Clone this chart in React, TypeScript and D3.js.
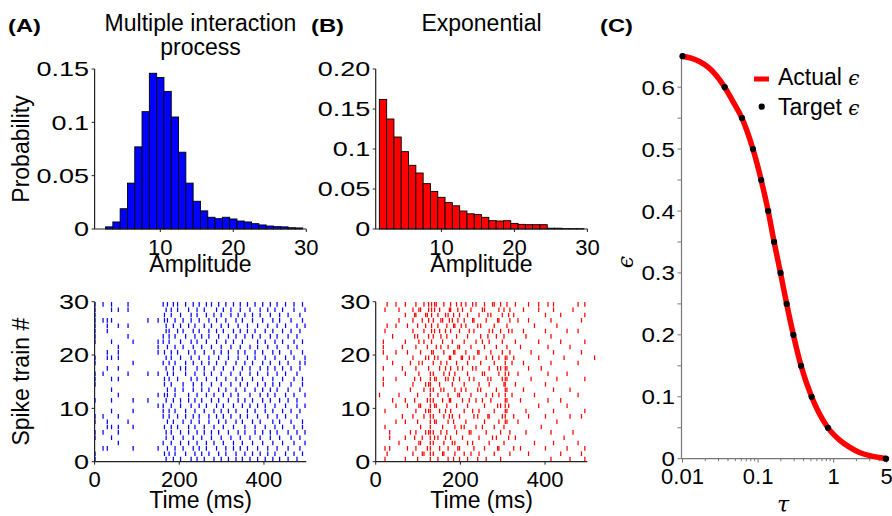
import React from 'react';
import * as d3 from 'd3';

const FONT = '"Liberation Sans", Arial, Helvetica, sans-serif';
const MATH = '"DejaVu Serif", "Liberation Serif", serif';

// ---------- Histogram data ----------
const mipBins = [3, 4, 5, 6, 7, 8, 9, 10, 11, 12, 13, 14, 15, 16, 17, 18, 19, 20, 21, 22, 23, 24, 25, 26, 27, 28, 29];
const mipProb = [0.002, 0.0066, 0.019, 0.043, 0.077, 0.11, 0.146, 0.142, 0.129, 0.105, 0.072, 0.043, 0.026, 0.017, 0.011, 0.0097, 0.011, 0.0094, 0.0075, 0.0066, 0.005, 0.0038, 0.0028, 0.0022, 0.002, 0.0012, 0.001];
const expBins = [2, 3, 4, 5, 6, 7, 8, 9, 10, 11, 12, 13, 14, 15, 16, 17, 18, 19, 20, 21, 22, 23, 24, 25, 26, 27, 28, 29];
const expProb = [0.162, 0.1375, 0.115, 0.0967, 0.0796, 0.07, 0.0567, 0.047, 0.0396, 0.033, 0.029, 0.0225, 0.019, 0.018, 0.0146, 0.0104, 0.01, 0.0104, 0.007, 0.0058, 0.0054, 0.0054, 0.0054, 0.001, 0.001, 0.0005, 0.0005, 0.0005];

const histAYTicks = [0, 0.05, 0.1, 0.15];
const histAYLabels = ['0', '0.05', '0.1', '0.15'];
const histBYTicks = [0, 0.05, 0.1, 0.15, 0.2];
const histBYLabels = ['0', '0.05', '0.1', '0.15', '0.20'];
const histXTicks = [10, 20, 30];
const rasterXTicks = [0, 200, 400];
const rasterYTicks = [0, 10, 20, 30];

// ---------- Raster data: [event time (ms), spike trains that fire at it] ----------
const mipEvents: [number, number[]][] = [
  [1, [30, 29, 28, 27, 26, 25, 24, 23, 20, 19, 17, 16, 15, 12, 9, 8, 6, 5, 2, 1]],
  [20, [30, 27, 17, 9, 6, 3]],
  [30, [27, 26, 25, 21, 20, 18, 8, 7, 3]],
  [40, [30, 29, 27, 23, 20, 16, 14, 12, 10, 7, 5]],
  [56, [29, 26, 22, 21, 20, 18, 16, 13, 9, 7, 6, 4]],
  [79, [30, 29, 26, 24, 17, 8]],
  [91, [23, 19, 12, 10, 7, 3]],
  [126, [27, 17, 12]],
  [150, [27, 23, 22, 21, 17, 13, 11, 3]],
  [162, [30, 24, 23, 19, 11, 10, 9, 4]],
  [165, [28, 27, 21, 16, 15, 13, 7, 2]],
  [169, [29, 26, 25, 20, 18, 12, 6, 5, 1]],
  [172, [30, 27, 22, 17, 14, 13, 8, 3]],
  [176, [25, 24, 23, 19, 16, 10, 9, 2]],
  [181, [29, 28, 21, 20, 15, 11, 7, 6, 4]],
  [186, [30, 26, 18, 17, 12, 8, 5, 1]],
  [190, [27, 24, 22, 19, 14, 13, 10, 3, 2]],
  [196, [30, 29, 25, 21, 16, 9, 7]],
  [203, [28, 26, 23, 20, 18, 12, 11, 6, 4, 1]],
  [209, [27, 25, 22, 15, 14, 8, 5, 3]],
  [215, [30, 24, 19, 18, 17, 10, 9, 2]],
  [222, [29, 26, 21, 13, 12, 7, 6, 4]],
  [228, [28, 27, 23, 20, 16, 11, 8, 1]],
  [233, [30, 25, 22, 19, 15, 14, 9, 5, 3]],
  [237, [26, 24, 21, 17, 12, 10, 7, 2]],
  [242, [29, 28, 23, 18, 16, 13, 6, 4, 1]],
  [247, [30, 27, 25, 20, 11, 9, 8, 3]],
  [253, [24, 22, 19, 15, 14, 12, 5, 2]],
  [259, [29, 26, 21, 18, 17, 10, 7, 6, 1]],
  [264, [30, 28, 23, 16, 13, 11, 4, 3]],
  [270, [27, 25, 24, 20, 19, 14, 9, 8, 2]],
  [276, [30, 26, 22, 17, 15, 12, 6, 5]],
  [282, [28, 21, 18, 13, 10, 7, 4, 1]],
  [288, [29, 27, 25, 23, 19, 16, 11, 9, 3]],
  [293, [30, 24, 20, 14, 12, 8, 6, 2]],
  [299, [28, 26, 22, 21, 17, 15, 10, 5, 1]],
  [304, [29, 25, 18, 13, 11, 9, 7, 4]],
  [310, [30, 27, 23, 19, 16, 14, 8, 3, 2]],
  [316, [26, 24, 21, 20, 12, 10, 6, 1]],
  [322, [29, 28, 22, 17, 15, 13, 9, 5]],
  [328, [30, 25, 23, 18, 11, 7, 4, 3]],
  [334, [27, 24, 19, 16, 14, 10, 8, 2, 1]],
  [339, [28, 26, 21, 20, 13, 12, 6]],
  [344, [30, 29, 25, 22, 17, 15, 9, 5, 3]],
  [349, [27, 23, 18, 16, 11, 8, 4, 1]],
  [355, [28, 24, 21, 19, 14, 12, 7, 6, 2]],
  [361, [30, 26, 25, 20, 15, 10, 9, 3]],
  [367, [29, 22, 18, 17, 13, 11, 5, 1]],
  [373, [28, 27, 24, 19, 16, 12, 8, 4, 2]],
  [379, [30, 25, 21, 20, 14, 10, 7, 6]],
  [385, [26, 23, 22, 17, 15, 11, 9, 3, 1]],
  [391, [29, 28, 24, 18, 13, 8, 5, 2]],
  [397, [30, 27, 21, 19, 16, 14, 12, 6, 4]],
  [403, [25, 23, 20, 15, 11, 10, 7, 1]],
  [409, [29, 26, 22, 18, 17, 13, 9, 3, 2]],
  [415, [30, 28, 24, 19, 14, 12, 6, 5]],
  [421, [27, 25, 21, 16, 15, 10, 8, 4, 1]],
  [426, [29, 23, 20, 18, 13, 11, 7, 2]],
  [431, [30, 26, 24, 22, 17, 14, 9, 6, 3]],
  [437, [28, 27, 21, 19, 15, 12, 8, 5, 1]],
  [444, [29, 25, 23, 18, 16, 10, 7, 4]],
  [451, [30, 26, 20, 17, 13, 11, 9, 2]],
  [457, [28, 24, 22, 19, 14, 12, 6, 3, 1]],
  [464, [27, 25, 21, 18, 15, 10, 8, 5]],
  [471, [30, 29, 23, 20, 16, 13, 7, 4, 2]],
  [478, [26, 24, 22, 17, 12, 11, 9, 6, 1]],
  [485, [28, 25, 19, 18, 14, 10, 5, 3]],
  [491, [30, 27, 23, 21, 16, 15, 8, 7, 2]],
  [497, [29, 26, 20, 19, 13, 11, 6, 4]],
];

const expEvents: [number, number[]][] = [
  [9, [13]], [18, [23, 22, 21, 18, 16, 15]], [22, [29, 25, 10, 7, 3, 1]], [27, [30, 26, 20, 2]],
  [33, [6, 5, 3]], [40, [24, 19, 12]], [48, [30, 26, 21, 16, 11, 8]], [55, [29, 27, 13, 4]],
  [63, [22, 18, 9]], [70, [30, 28, 23, 17, 12, 8, 5, 1]], [75, [26, 21, 11, 3]], [82, [19, 14, 6]],
  [88, [29, 27, 25, 20, 15, 9, 2]], [92, [28, 24, 16, 12, 5]], [95, [30, 28, 22, 18, 10, 6, 3]],
  [99, [26, 24, 13, 8, 1]], [102, [29, 23, 19, 17, 11, 4]], [106, [29, 21, 16, 11, 7, 4]],
  [110, [27, 19, 5, 2]], [114, [30, 25, 23, 14, 9, 2]], [118, [28, 26, 20, 15, 10, 6]],
  [122, [28, 22, 12, 3]], [125, [30, 29, 27, 24, 20, 18, 15, 10, 6]],
  [129, [17, 16, 15, 14, 13, 12, 11, 10, 9, 8, 7, 6, 5, 4, 3, 2, 1]],
  [132, [30, 29, 28, 26, 25, 23, 21]], [136, [27, 24, 21, 19, 17, 14, 12, 9, 6, 4, 2]],
  [139, [30, 29, 25, 20, 16, 11, 8, 5]], [143, [30, 22, 16, 11, 8]], [147, [28, 26, 20, 13, 5, 1]],
  [151, [29, 25, 18, 15, 10, 3]], [154, [27, 24, 22, 19, 14, 6]], [158, [27, 23, 12, 7, 2]],
  [161, [30, 21, 17, 14, 9, 4, 2]], [165, [28, 25, 18, 16, 10, 5]], [168, [26, 24, 19, 11, 6]],
  [171, [28, 22, 16, 13, 8, 3, 1]], [174, [29, 27, 20, 17, 12, 9]], [177, [30, 29, 25, 20, 18, 12, 10, 5]],
  [181, [27, 23, 15, 9, 4]], [184, [28, 26, 21, 16, 8, 1]], [187, [26, 21, 17, 14, 7, 4, 2]],
  [191, [30, 24, 19, 11, 6]], [194, [29, 27, 22, 18, 13, 3]], [198, [28, 25, 22, 16, 13, 9, 3, 1]],
  [202, [30, 26, 20, 14, 7]], [205, [29, 20, 18, 12, 5]], [209, [27, 23, 15, 10, 7, 2]],
  [213, [30, 26, 21, 14, 8]], [217, [28, 24, 19, 17, 11, 4, 1]], [221, [25, 20, 16, 12, 6]],
  [225, [29, 22, 13, 6, 2]], [229, [30, 27, 18, 10, 4]], [232, [27, 25, 20, 16, 9, 3]],
  [237, [30, 23, 18, 12, 7]], [241, [26, 21, 14, 9, 1]], [244, [28, 21, 15, 10, 5, 2]],
  [248, [26, 24, 19, 14]], [252, [29, 23, 17, 12, 7]], [257, [30, 29, 22, 17, 11, 8, 3]],
  [261, [27, 20, 13, 6, 1]], [265, [28, 24, 16, 9]], [268, [25, 23, 18, 15, 9, 4]],
  [272, [28, 21, 16, 12]], [276, [30, 25, 20, 13, 5]], [280, [30, 26, 19, 10, 7, 2]],
  [285, [24, 22, 14, 5]], [288, [27, 18, 11, 3]], [291, [29, 27, 20, 17, 13, 8, 3]],
  [295, [30, 25, 18, 11, 6, 1]], [299, [28, 23, 21, 16, 9]], [303, [29, 24, 15, 7, 4]],
  [306, [20, 19, 18, 17, 16, 15, 14, 13, 12, 11, 10, 9, 8]], [310, [30, 26, 22, 20, 18, 16, 14, 12, 10, 8]],
  [314, [28, 25, 17, 11, 5]], [317, [29, 27, 21, 6, 2]], [322, [25, 19, 13]], [326, [28, 20, 9, 3]],
  [330, [30, 23, 15, 5]], [336, [27, 17, 8]], [342, [22, 12, 3]], [349, [29, 25, 19, 14]],
  [355, [24, 10, 6]], [361, [30, 27, 18, 9, 2]], [367, [21, 16]], [375, [26, 13, 4]],
  [385, [30, 29, 23, 20, 11]], [391, [18, 7]], [401, [28, 25, 15, 9, 3]], [407, [30, 22, 17, 12]],
  [414, [27, 24, 19, 6, 1]], [420, [30, 29, 21, 14, 10, 4]], [428, [26, 16, 8]], [437, [28, 23, 12, 2]],
  [445, [20, 5]], [452, [25, 17, 11, 3]], [459, [22, 14, 9, 1]], [466, [29, 6]],
  [478, [30, 25, 19, 13, 4]], [486, [27, 21, 9, 2]], [494, [30, 28, 23, 16, 10, 3, 1]], [517, [20]],
];

// ---------- Panel C data ----------
const targetTau = [0.01, 0.0362, 0.0612, 0.0855, 0.11, 0.136, 0.163, 0.198, 0.239, 0.293, 0.37, 0.511, 0.84, 4.9];
const targetEps = [0.65, 0.6, 0.55, 0.5, 0.45, 0.4, 0.35, 0.3, 0.25, 0.2, 0.15, 0.1, 0.05, 0];
const actualTau = [0.01, 0.013, 0.017, 0.022, 0.028, 0.0362, 0.046, 0.0612, 0.0855, 0.11, 0.136, 0.163, 0.198, 0.239, 0.293, 0.37, 0.511, 0.84, 1.2, 1.6, 2.2, 3, 4, 5];
const actualEps = [0.65, 0.647, 0.641, 0.632, 0.619, 0.6, 0.578, 0.55, 0.5, 0.45, 0.4, 0.35, 0.3, 0.25, 0.2, 0.15, 0.1, 0.05, 0.03, 0.019, 0.01, 0.005, 0.002, 0];
const cYMajor = [0, 0.1, 0.2, 0.3, 0.4, 0.5, 0.6];
const cYLabels = ['0', '0.1', '0.2', '0.3', '0.4', '0.5', '0.6'];
const cYMinor = [0.05, 0.15, 0.25, 0.35, 0.45, 0.55];
const cXMajor = [0.01, 0.1, 1, 5];
const cXLabels = ['0.01', '0.1', '1', '5'];
const cXMinor = [0.02, 0.03, 0.04, 0.05, 0.06, 0.07, 0.08, 0.09, 0.2, 0.3, 0.4, 0.5, 0.6, 0.7, 0.8, 0.9, 2, 3, 4];

const XTICK_FS = 22;
const LABEL_FS = 23;

function LeftAxis({ x, y, ticks, labels, color, len = 4, minor = [] as number[], fs = 20, sx = 1.35 }:
  { x: number; y: any; ticks: number[]; labels: string[]; color: string; len?: number; minor?: number[]; fs?: number; sx?: number }) {
  const [r0, r1] = y.range();
  return (
    <g>
      <line x1={x} x2={x} y1={r0} y2={r1} stroke={color} strokeWidth={1.2} />
      {ticks.map((t, i) => (
        <g key={'t' + i}>
          <line x1={x - len} x2={x} y1={y(t)} y2={y(t)} stroke={color} strokeWidth={1} />
          <text transform={`translate(${x - len - 2.5},${y(t)}) scale(${sx},1)`} dy="0.36em" textAnchor="end" fontSize={fs} fill="#000">{labels[i]}</text>
        </g>
      ))}
      {minor.map((t, i) => (
        <line key={'m' + i} x1={x - len} x2={x} y1={y(t)} y2={y(t)} stroke={color} strokeWidth={1} />
      ))}
    </g>
  );
}

function BottomAxis({ y, x, ticks, labels, color, len = 4, minor = [] as number[], minorLen = 2 }:
  { y: number; x: any; ticks: number[]; labels: string[]; color: string; len?: number; minor?: number[]; minorLen?: number }) {
  const [r0, r1] = x.range();
  return (
    <g>
      <line x1={r0} x2={r1} y1={y} y2={y} stroke={color} strokeWidth={1.2} />
      {ticks.map((t, i) => (
        <g key={'t' + i}>
          <line x1={x(t)} x2={x(t)} y1={y} y2={y + len} stroke={color} strokeWidth={1} />
          <text x={x(t)} y={y + 25.5} textAnchor="middle" fontSize={XTICK_FS} fill="#000">{labels[i]}</text>
        </g>
      ))}
      {minor.map((t, i) => (
        <line key={'m' + i} x1={x(t)} x2={x(t)} y1={y} y2={y + minorLen} stroke={color} strokeWidth={1} />
      ))}
    </g>
  );
}

function Histogram({ bins, probs, x, y, fill }: { bins: number[]; probs: number[]; x: any; y: any; fill: string }) {
  return (
    <g>
      {bins.map((b, i) => (
        <rect key={i} x={x(b - 0.5)} width={x(b + 0.5) - x(b - 0.5)} y={y(probs[i])}
          height={y(0) - y(probs[i])} fill={fill} stroke="#000" strokeWidth={0.9} />
      ))}
    </g>
  );
}

function Raster({ events, x, y, color }: { events: [number, number[]][]; x: any; y: any; color: string }) {
  const segs: { t: number; r: number }[] = [];
  events.forEach(([t, rows]) => rows.forEach((r) => segs.push({ t, r })));
  return (
    <g>
      {segs.map((s, i) => (
        <line key={i} x1={x(s.t)} x2={x(s.t)} y1={y(s.r - 0.93)} y2={y(s.r - 0.07)} stroke={color} strokeWidth={1.25} />
      ))}
    </g>
  );
}

function PanelLabel({ x, text }: { x: number; text: string }) {
  return (
    <text transform={`translate(${x},32) scale(1.25,1)`} fontSize={19} fontWeight="bold">{text}</text>
  );
}

export default function App() {
  const xHA = d3.scaleLinear().domain([1, 30]).range([94.6, 306.3]);
  const yHA = d3.scaleLinear().domain([0, 0.15]).range([229, 69]);
  const xHB = d3.scaleLinear().domain([1, 30]).range([375.7, 587.4]);
  const yHB = d3.scaleLinear().domain([0, 0.2]).range([229, 69]);
  const xRA = d3.scaleLinear().domain([0, 500]).range([94.6, 306.3]);
  const xRB = d3.scaleLinear().domain([0, 500]).range([375.7, 587.4]);
  const yR = d3.scaleLinear().domain([0, 30]).range([461.7, 301.7]);
  const xC = d3.scaleLog().domain([0.0097, 5]).range([681.5, 886.5]);
  const yC = d3.scaleLinear().domain([0, 0.65]).range([458.7, 56.2]);

  const curve = d3.line<number>()
    .x((_, i) => xC(actualTau[i]))
    .y((d) => yC(d))
    .curve(d3.curveMonotoneX)(actualEps) || '';

  const axisAB = '#222';
  const axisC = '#777';

  return (
    <svg width={892} height={516} style={{ position: 'absolute', left: 0, top: 0 }} fontFamily={FONT}>
      <rect width={892} height={516} fill="#fff" />

      <PanelLabel x={8} text="(A)" />
      <PanelLabel x={311} text="(B)" />
      <PanelLabel x={600} text="(C)" />
      <text x={200.5} y={31} textAnchor="middle" fontSize={LABEL_FS}>Multiple interaction</text>
      <text x={200.5} y={55} textAnchor="middle" fontSize={LABEL_FS}>process</text>
      <text x={481.5} y={31} textAnchor="middle" fontSize={LABEL_FS}>Exponential</text>

      {/* Histogram A */}
      <Histogram bins={mipBins} probs={mipProb} x={xHA} y={yHA} fill="#0000ff" />
      <LeftAxis x={94.6} y={yHA} ticks={histAYTicks} labels={histAYLabels} color={axisAB} len={3} />
      <BottomAxis y={229} x={xHA} ticks={histXTicks} labels={histXTicks.map(String)} color={axisAB} len={3} />
      <text x={200.5} y={272} textAnchor="middle" fontSize={LABEL_FS}>Amplitude</text>
      <text transform="translate(29,149) rotate(-90)" textAnchor="middle" fontSize={LABEL_FS}>Probability</text>

      {/* Histogram B */}
      <Histogram bins={expBins} probs={expProb} x={xHB} y={yHB} fill="#ff0000" />
      <LeftAxis x={375.7} y={yHB} ticks={histBYTicks} labels={histBYLabels} color={axisAB} len={3} />
      <BottomAxis y={229} x={xHB} ticks={histXTicks} labels={histXTicks.map(String)} color={axisAB} len={3} />
      <text x={481.5} y={272} textAnchor="middle" fontSize={LABEL_FS}>Amplitude</text>

      {/* Raster A */}
      <Raster events={mipEvents} x={xRA} y={yR} color="#0000ff" />
      <LeftAxis x={94.6} y={yR} ticks={rasterYTicks} labels={rasterYTicks.map(String)} color={axisAB} len={3} />
      <BottomAxis y={461.7} x={xRA} ticks={rasterXTicks} labels={rasterXTicks.map(String)} color={axisAB} len={3} />
      <text x={200.5} y={508} textAnchor="middle" fontSize={LABEL_FS}>Time (ms)</text>
      <text transform="translate(29,381.7) rotate(-90)" textAnchor="middle" fontSize={LABEL_FS}>Spike train #</text>

      {/* Raster B */}
      <Raster events={expEvents} x={xRB} y={yR} color="#ff0000" />
      <LeftAxis x={375.7} y={yR} ticks={rasterYTicks} labels={rasterYTicks.map(String)} color={axisAB} len={3} />
      <BottomAxis y={461.7} x={xRB} ticks={rasterXTicks} labels={rasterXTicks.map(String)} color={axisAB} len={3} />
      <text x={481.5} y={508} textAnchor="middle" fontSize={LABEL_FS}>Time (ms)</text>

      {/* Panel C */}
      <LeftAxis x={681.5} y={yC} ticks={cYMajor} labels={cYLabels} color={axisC} len={4} minor={cYMinor} fs={21} sx={1.15} />
      <BottomAxis y={458.7} x={xC} ticks={cXMajor} labels={cXLabels} color={axisC} len={4} minor={cXMinor} minorLen={2.5} />
      <path d={curve} fill="none" stroke="#ff0000" strokeWidth={5.5} strokeLinecap="round" />
      {targetTau.map((t, i) => (
        <circle key={i} cx={xC(t)} cy={yC(targetEps[i])} r={3.1} fill="#000" />
      ))}
      <text transform="translate(633,262) rotate(-90)" textAnchor="middle" fontSize={22} fontFamily={MATH} fontStyle="italic">ϵ</text>
      <text x={783} y={512} textAnchor="middle" fontSize={22} fontFamily={MATH} fontStyle="italic">τ</text>

      {/* Legend */}
      <line x1={754} x2={769} y1={79} y2={79} stroke="#ff0000" strokeWidth={5} />
      <text x={778} y={85} fontSize={LABEL_FS}>Actual <tspan fontFamily={MATH} fontStyle="italic" fontSize={20}>ϵ</tspan></text>
      <circle cx={761.7} cy={106.7} r={3.1} fill="#000" />
      <text x={778} y={115} fontSize={LABEL_FS}>Target <tspan fontFamily={MATH} fontStyle="italic" fontSize={20}>ϵ</tspan></text>
    </svg>
  );
}
